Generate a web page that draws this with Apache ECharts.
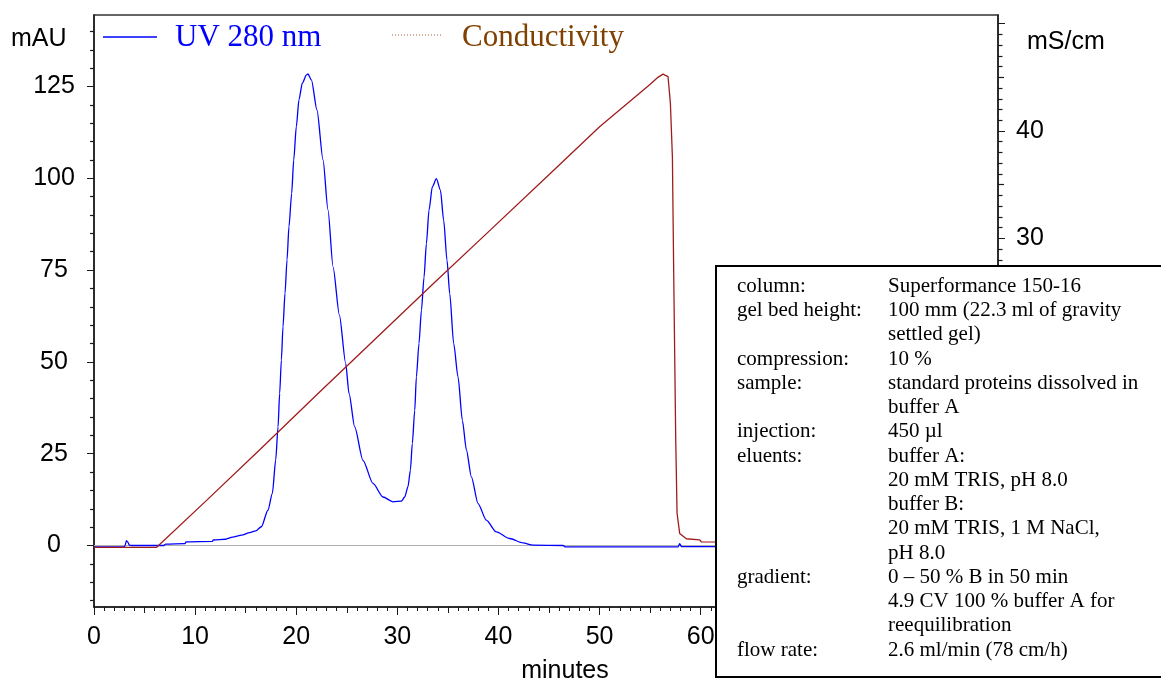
<!DOCTYPE html>
<html><head><meta charset="utf-8">
<script src="https://cdn.jsdelivr.net/npm/echarts@6/dist/echarts.min.js"></script>
<style>html,body{margin:0;padding:0;background:#fff}#c{width:1161px;height:686px}</style>
</head><body><div id="c"></div>
<script>
// ---- data ----
const uvTime = [0, 3.0, 3.1, 3.2, 3.35, 3.5, 3.7, 6.9, 7.1, 9.0, 9.1, 11.7, 11.8, 13.0, 13.7, 14.6, 15.4, 16.0, 16.55,
  17.2, 17.64, 17.97, 18.2, 18.36, 18.53, 18.69, 18.89, 19.09, 19.28, 19.55, 19.75, 20.01, 20.27, 20.6, 21.0, 21.16,
  21.5, 22.05, 22.65, 23.14, 23.64, 24.27, 24.89, 25.22, 25.78, 26.6, 27.59, 28.58, 29.57, 30.4, 30.73, 31.05, 31.29,
  31.48, 31.72, 31.88, 32.14, 32.38, 32.64, 32.87, 33.13, 33.46, 33.86, 34.26, 34.58, 34.91, 35.18, 35.57, 36.0, 36.43,
  36.83, 37.32, 37.98, 38.8, 39.79, 41.11, 42.43, 43.41, 46.4, 46.6, 57.76, 57.92, 58.1, 89.4];
const uvValue = [-0.4, -0.4, 0.2, 1.3, 0.9, 0.1, 0, 0, 0.4, 0.5, 1.0, 1.1, 1.5, 1.7, 2.3, 2.8, 3.5, 4.0, 5.1,
  9.6, 14.2, 23.3, 32.3, 41.4, 50.5, 59.6, 68.7, 77.8, 86.8, 95.9, 105, 114.1, 121.4, 125.9, 128.1, 128.4,
  126.8, 118.6, 105, 91.4, 75.9, 62.7, 49.6, 41.4, 32.3, 23.2, 16.9, 13.2, 11.9, 12.1, 13.2, 16.0, 20.5,
  27.8, 36.8, 45.9, 55, 64.1, 73.1, 82.2, 91.3, 97.7, 99.9, 96.8, 88.6, 77.7, 68.6, 55, 45.9, 34.1,
  26, 18.7, 11.4, 6.9, 3.7, 1.9, 0.7, 0.1, 0, -0.4, -0.4, 0.5, -0.3, -0.3];
const condTime = [0, 6.2, 11.16, 16.39, 22.34, 29.24, 33.7, 39.0, 45.07, 50.0, 53.3, 54.95, 55.77, 56.27,
  56.77, 57.0, 57.2, 57.33, 57.53, 57.66, 57.92, 58.58, 59.9, 60.07, 89.4];
const condValue = [1.2, 1.2, 5.6, 10.3, 15.7, 21.9, 25.9, 30.6, 36.0, 40.4, 43.0, 44.3, 45.0, 45.3,
  45.06, 42.6, 37.6, 26.7, 11.2, 4.4, 2.5, 2.0, 1.9, 1.7, 1.6];
const xTickLabels = [0, 10, 20, 30, 40, 50, 60];
const uvTickLabels = [0, 25, 50, 75, 100, 125];
const condTickLabels = [30, 40];
const seriesNames = ['UV 280 nm', 'Conductivity'];
const uvUnit = 'mAU';
const condUnit = 'mS/cm';
const xTitle = 'minutes';
const infoLabels = ['column:', 'gel bed height:', '', 'compression:', 'sample:', '', 'injection:', 'eluents:',
  '', '', '', '', 'gradient:', '', '', 'flow rate:'];
const infoValues = ['Superformance 150-16', '100 mm (22.3 ml of gravity', 'settled gel)', '10 %',
  'standard proteins dissolved in', 'buffer A', '450 µl', 'buffer A:', '20 mM TRIS, pH 8.0', 'buffer B:',
  '20 mM TRIS, 1 M NaCl,', 'pH 8.0', '0 – 50 % B in 50 min', '4.9 CV 100 % buffer A for', 'reequilibration',
  '2.6 ml/min (78 cm/h)'];

// ---- axis ranges ----
const X_MIN = 0, X_MAX = 89.4;
const UV_MIN = -16.75, UV_MAX = 144.47;
const C_MIN = -4.36, C_MAX = 50.81;

function steps(a, b, s, skip) {
  const out = [];
  for (let v = a; v <= b + 1e-9; v += s) {
    const r = Math.round(v * 1000) / 1000;
    if (!skip || !skip(r)) out.push(r);
  }
  return out;
}

const uvData = uvTime.map((t, i) => [t, uvValue[i]]);
const condData = condTime.map((t, i) => [t, condValue[i]]);

const SANS = "'Liberation Sans', Arial, sans-serif";
const SERIF = "'Liberation Serif', 'Times New Roman', serif";
const AX = '#1a1a1a';

function overlayX(values, len) {
  return {type: 'value', gridIndex: 0, position: 'bottom', min: X_MIN, max: X_MAX,
    axisLine: {show: false, onZero: false}, axisLabel: {show: false}, splitLine: {show: false},
    axisTick: {show: true, length: len, customValues: values, lineStyle: {color: AX, width: 1}}};
}
function overlayY(pos, min, max, values, len) {
  return {type: 'value', gridIndex: 0, position: pos, min: min, max: max,
    axisLine: {show: false, onZero: false}, axisLabel: {show: false}, splitLine: {show: false},
    axisTick: {show: true, length: len, customValues: values, lineStyle: {color: AX, width: 1.2}}};
}

const graphics = [];
// legend
graphics.push({type: 'line', z: 100, shape: {x1: 103, y1: 37, x2: 157, y2: 37}, style: {stroke: '#0000ff', lineWidth: 1.3}});
graphics.push({type: 'text', z: 100, x: 175, y: 37.5, style: {text: seriesNames[0], font: '31px ' + SERIF, fill: '#0000ff', verticalAlign: 'middle'}});
graphics.push({type: 'line', z: 100, shape: {x1: 392, y1: 35, x2: 443, y2: 35}, style: {stroke: '#a0603a', lineWidth: 1, lineDash: [1, 2]}});
graphics.push({type: 'text', z: 100, x: 462, y: 37.5, style: {text: seriesNames[1], font: '31px ' + SERIF, fill: '#804000', verticalAlign: 'middle'}});
// axis titles
graphics.push({type: 'text', z: 100, x: 11, y: 39.5, style: {text: uvUnit, font: '25px ' + SANS, fill: '#000', verticalAlign: 'middle'}});
graphics.push({type: 'text', z: 100, x: 1027, y: 42.5, style: {text: condUnit, font: '25px ' + SANS, fill: '#000', verticalAlign: 'middle'}});
graphics.push({type: 'text', z: 100, x: 565, y: 671, style: {text: xTitle, font: '25px ' + SANS, fill: '#000', align: 'center', verticalAlign: 'middle'}});
// info box
graphics.push({type: 'rect', z: 110, shape: {x: 716, y: 266, width: 470, height: 411}, style: {fill: '#fff', stroke: '#000', lineWidth: 2}});
infoLabels.forEach((t, i) => {
  if (t) graphics.push({type: 'text', z: 111, x: 737, y: 286.4 + i * 24.25, style: {text: t, font: '21px ' + SERIF, fill: '#000', verticalAlign: 'middle'}});
});
infoValues.forEach((t, i) => {
  graphics.push({type: 'text', z: 111, x: 888, y: 286.4 + i * 24.25, style: {text: t, font: '21px ' + SERIF, fill: '#000', verticalAlign: 'middle'}});
});

const chart = echarts.init(document.getElementById('c'), null, {renderer: 'canvas'});
chart.setOption({
  animation: false,
  backgroundColor: '#fff',
  grid: {left: 94, right: 163, top: 15, bottom: 79, show: true, borderColor: '#333', borderWidth: 1.5, backgroundColor: 'transparent'},
  xAxis: [
    {type: 'value', gridIndex: 0, position: 'bottom', min: X_MIN, max: X_MAX,
      axisLine: {show: true, onZero: false, lineStyle: {color: AX, width: 1.5}},
      axisTick: {show: true, length: 8, customValues: steps(0, 80, 10), lineStyle: {color: AX, width: 1}},
      axisLabel: {show: true, customValues: xTickLabels, margin: 18, fontFamily: SANS, fontSize: 25, color: '#000'},
      splitLine: {show: false}},
    overlayX(steps(5, 85, 10), 6),
    overlayX(steps(1, 89, 1, v => v % 5 === 0), 4)
  ],
  yAxis: [
    {type: 'value', gridIndex: 0, position: 'left', min: UV_MIN, max: UV_MAX,
      axisLine: {show: true, onZero: false, lineStyle: {color: AX, width: 1.5}},
      axisTick: {show: true, length: 7, customValues: uvTickLabels, lineStyle: {color: AX, width: 1}},
      axisLabel: {show: true, customValues: uvTickLabels, margin: 40, align: 'center', fontFamily: SANS, fontSize: 25, color: '#000'},
      splitLine: {show: false}},
    {type: 'value', gridIndex: 0, position: 'right', min: C_MIN, max: C_MAX,
      axisLine: {show: true, onZero: false, lineStyle: {color: AX, width: 1.5}},
      axisTick: {show: true, length: 7, customValues: steps(0, 50, 10), lineStyle: {color: AX, width: 1}},
      axisLabel: {show: true, customValues: condTickLabels, margin: 18, fontFamily: SANS, fontSize: 25, color: '#000'},
      splitLine: {show: false}},
    overlayY('left', UV_MIN, UV_MAX, steps(-15, 140, 5, v => v % 25 === 0), 4),
    overlayY('right', C_MIN, C_MAX, steps(5, 45, 10), 6),
    overlayY('right', C_MIN, C_MAX, steps(-4, 50, 1, v => v % 5 === 0), 4.5)
  ],
  series: [
    {type: 'line', name: seriesNames[0], xAxisIndex: 0, yAxisIndex: 0, data: uvData, showSymbol: false, symbol: 'none',
      smooth: 0.25, smoothMonotone: 'x',
      lineStyle: {color: '#0000ff', width: 1.3}, itemStyle: {color: '#0000ff'}, z: 3, silent: true,
      markLine: {silent: true, symbol: 'none', z: 1, label: {show: false},
        lineStyle: {color: '#b0b0b0', width: 1, type: 'solid'}, data: [{yAxis: 0}]}},
    {type: 'line', name: seriesNames[1], xAxisIndex: 0, yAxisIndex: 1, data: condData, showSymbol: false, symbol: 'none',
      lineStyle: {color: '#a01c1c', width: 1.3}, itemStyle: {color: '#a01c1c'}, z: 4, silent: true}
  ],
  graphic: {elements: graphics}
});
</script>
</body></html>
